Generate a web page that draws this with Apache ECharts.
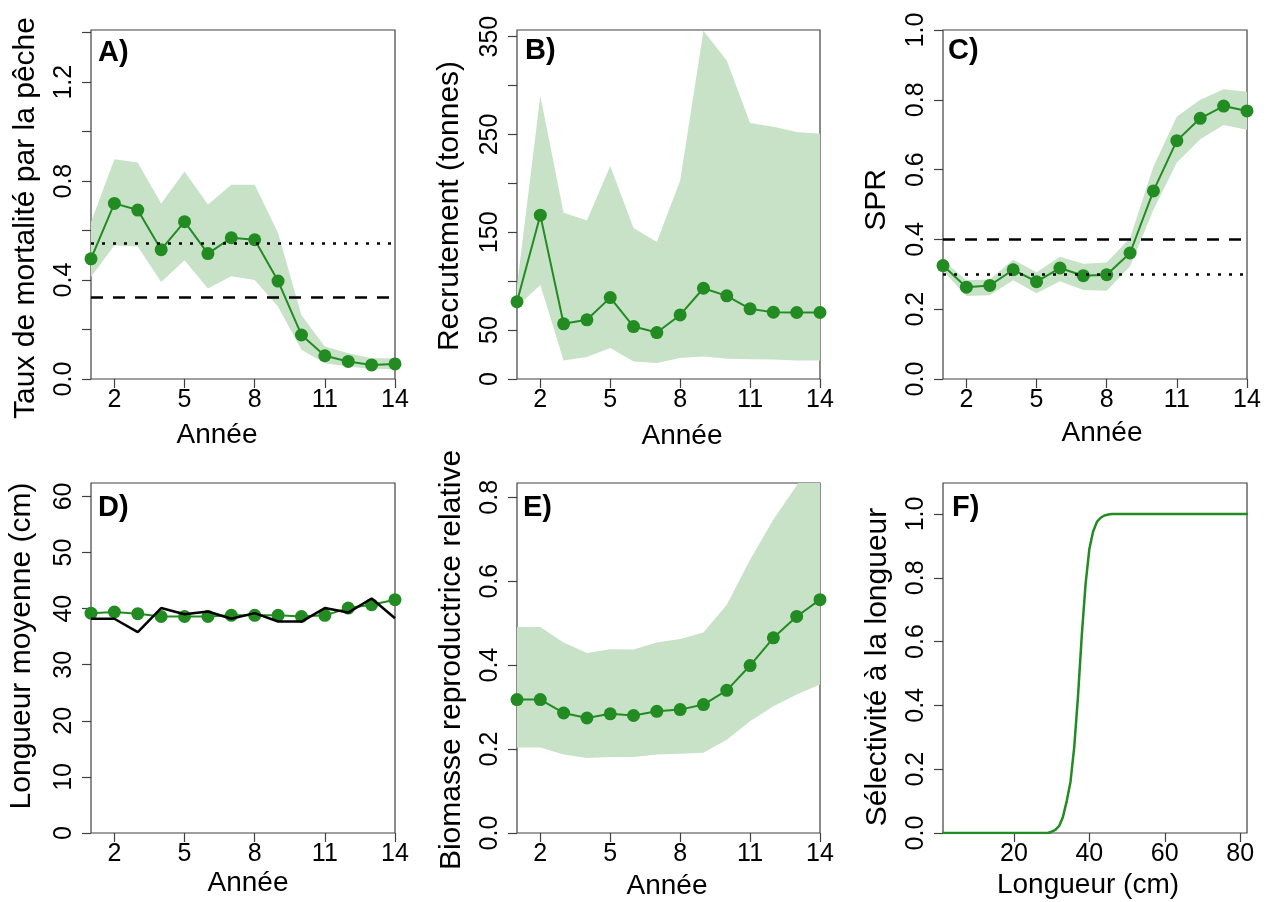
<!DOCTYPE html>
<html>
<head>
<meta charset="utf-8">
<script src="https://cdn.jsdelivr.net/npm/echarts@6/dist/echarts.min.js"></script>
<style>
  html, body { margin: 0; padding: 0; background: #fff; }
  #chart { width: 1271px; height: 902px; }
</style>
</head>
<body>
<div id="chart"></div>
<script>
// ---- data ----
const years = [1, 2, 3, 4, 5, 6, 7, 8, 9, 10, 11, 12, 13, 14];

// A) fishing mortality
const fishMort   = [0.486, 0.71, 0.683, 0.523, 0.636, 0.507, 0.571, 0.563, 0.396, 0.178, 0.094, 0.071, 0.057, 0.061];
const fishMortLo = [0.413, 0.54, 0.536, 0.392, 0.48, 0.366, 0.415, 0.40, 0.292, 0.118, 0.064, 0.051, 0.04, 0.04];
const fishMortHi = [0.634, 0.888, 0.875, 0.71, 0.839, 0.705, 0.785, 0.785, 0.59, 0.258, 0.131, 0.104, 0.084, 0.084];
const fishMortDotted = 0.547;
const fishMortDashed = 0.33;

// B) recruitment
const recruit   = [79, 167.5, 56.4, 60.5, 83.2, 53.6, 47.5, 65.5, 92.8, 85, 71.7, 68.3, 68, 68];
const recruitLo = [74, 96, 19, 22.4, 31.6, 18, 16.3, 21.4, 23, 20.7, 20.3, 20, 19, 19];
const recruitHi = [95, 289.5, 170, 162, 217.7, 154.5, 140, 203, 356, 325.5, 261.6, 258, 252.4, 250.8];

// C) SPR
const spr   = [0.325, 0.263, 0.268, 0.313, 0.279, 0.318, 0.296, 0.299, 0.361, 0.539, 0.683, 0.747, 0.782, 0.768];
const sprLo = [0.31, 0.238, 0.24, 0.283, 0.246, 0.28, 0.255, 0.253, 0.323, 0.485, 0.62, 0.687, 0.728, 0.714];
const sprHi = [0.34, 0.283, 0.285, 0.342, 0.306, 0.35, 0.33, 0.334, 0.404, 0.609, 0.752, 0.80, 0.83, 0.823];
const sprDashed = 0.402;
const sprDotted = 0.303;

// D) mean length: estimated (green) and observed (black)
const lenEst = [39.2, 39.4, 39.1, 38.6, 38.6, 38.6, 38.8, 38.8, 38.8, 38.6, 38.8, 40.1, 40.7, 41.6];
const lenObs = [38.2, 38.2, 35.8, 40.1, 39.0, 39.5, 38.2, 39.2, 37.7, 37.7, 40.1, 39.3, 41.8, 38.3];

// E) relative spawning biomass
const ssb   = [0.318, 0.318, 0.286, 0.274, 0.284, 0.280, 0.290, 0.294, 0.306, 0.340, 0.399, 0.465, 0.516, 0.556];
const ssbLo = [0.204, 0.204, 0.187, 0.179, 0.181, 0.181, 0.187, 0.189, 0.191, 0.222, 0.266, 0.302, 0.33, 0.354];
const ssbHi = [0.491, 0.491, 0.454, 0.429, 0.438, 0.437, 0.454, 0.462, 0.478, 0.544, 0.651, 0.747, 0.828, 0.91];

// F) selectivity at length
const lengths     = [1, 29, 30, 31, 32, 33, 34, 35, 36, 37, 38, 39, 40, 41, 42, 43, 44, 45, 46, 82];
const selectivity = [0, 0, 0.004, 0.01, 0.022, 0.05, 0.1, 0.16, 0.27, 0.43, 0.62, 0.78, 0.89, 0.945, 0.975, 0.988, 0.995, 0.998, 1, 1];

const yearTicks = [2, 5, 8, 11, 14];
const lengthTicks = [20, 40, 60, 80];

// ---- style ----
const GREEN = '#228B22';
const BAND = '#C8E2C8';
const INK = '#404040';
const FONT = '"Liberation Sans", Arial, sans-serif';

const boxes = [
  { left: 91,  top: 30,  width: 304, height: 349 },
  { left: 517, top: 30,  width: 303, height: 349 },
  { left: 943, top: 30,  width: 304, height: 349 },
  { left: 91,  top: 483, width: 304, height: 350 },
  { left: 517, top: 483, width: 303, height: 350 },
  { left: 943, top: 483, width: 304, height: 350 },
];

function xAxisFor(i, min, max, ticks) {
  return {
    gridIndex: i, type: 'value', min, max,
    axisLine: { show: false },
    axisTick: { show: true, length: 9, customValues: ticks, lineStyle: { color: INK, width: 1.2 } },
    axisLabel: { customValues: ticks, margin: 9, fontSize: 25, color: '#000', fontFamily: FONT },
    splitLine: { show: false },
  };
}

function yAxisFor(i, max, ticks, labels, digits) {
  return {
    gridIndex: i, type: 'value', min: 0, max,
    axisLine: { show: false },
    axisTick: { show: true, length: 9, customValues: ticks, lineStyle: { color: INK, width: 1.2 } },
    axisLabel: {
      customValues: labels, rotate: 90, margin: 14, fontSize: 25, color: '#000', fontFamily: FONT,
      formatter: (v) => Number(v).toFixed(digits),
    },
    splitLine: { show: false },
  };
}

const pairs = (xs, ys) => xs.map((x, k) => [x, ys[k]]);

// confidence band: one polygon per panel, upper edge forward then lower edge back
function band(i, lo, hi) {
  return {
    type: 'custom', xAxisIndex: i, yAxisIndex: i, silent: true, clip: true, z: 1,
    data: years.map((y, k) => [y, lo[k], hi[k]]),
    encode: { x: 0, y: [1, 2] },
    renderItem(params, api) {
      if (params.dataIndex !== 0) return null;
      const top = years.map((y, k) => api.coord([y, hi[k]]));
      const bottom = years.map((y, k) => api.coord([y, lo[k]])).reverse();
      return {
        type: 'polygon',
        shape: { points: top.concat(bottom) },
        style: { fill: BAND },
      };
    },
  };
}

function refLine(value, dash) {
  return { yAxis: value, lineStyle: { color: '#000', width: 2.5, type: dash } };
}

function trend(i, values, refs) {
  const s = {
    type: 'line', xAxisIndex: i, yAxisIndex: i, data: pairs(years, values),
    symbol: 'circle', symbolSize: 13, itemStyle: { color: GREEN },
    lineStyle: { color: GREEN, width: 2 }, z: 3,
  };
  if (refs) {
    s.markLine = { silent: true, symbol: 'none', label: { show: false }, data: refs };
  }
  return s;
}

function text(str, x, y, size, opts = {}) {
  return {
    type: 'text', x, y, rotation: opts.rotate ? Math.PI / 2 : 0,
    style: {
      text: str, fill: '#000',
      font: (opts.bold ? 'bold ' : '') + size + 'px ' + FONT,
      align: opts.align || 'center', verticalAlign: 'middle',
      textAlign: opts.align || 'center', textVerticalAlign: 'middle',
    },
    z: 10,
  };
}

const chart = echarts.init(document.getElementById('chart'), null, { renderer: 'canvas' });
chart.setOption({
  animation: false,
  backgroundColor: '#fff',
  grid: boxes.map((b) => ({ ...b, show: true, borderColor: INK, borderWidth: 1.2, backgroundColor: 'transparent' })),
  xAxis: [
    xAxisFor(0, 1, 14, yearTicks),
    xAxisFor(1, 1, 14, yearTicks),
    xAxisFor(2, 1, 14, yearTicks),
    xAxisFor(3, 1, 14, yearTicks),
    xAxisFor(4, 1, 14, yearTicks),
    xAxisFor(5, 1.2, 81.8, lengthTicks),
  ],
  yAxis: [
    yAxisFor(0, 1.411, [0, 0.2, 0.4, 0.6, 0.8, 1.0, 1.2, 1.4], [0, 0.4, 0.8, 1.2], 1),
    yAxisFor(1, 356.8, [0, 50, 100, 150, 200, 250, 300, 350], [0, 50, 150, 250, 350], 0),
    yAxisFor(2, 1.0, [0, 0.2, 0.4, 0.6, 0.8, 1.0], [0, 0.2, 0.4, 0.6, 0.8, 1.0], 1),
    yAxisFor(3, 62.4, [0, 10, 20, 30, 40, 50, 60], [0, 10, 20, 30, 40, 50, 60], 0),
    yAxisFor(4, 0.834, [0, 0.2, 0.4, 0.6, 0.8], [0, 0.2, 0.4, 0.6, 0.8], 1),
    yAxisFor(5, 1.097, [0, 0.2, 0.4, 0.6, 0.8, 1.0], [0, 0.2, 0.4, 0.6, 0.8, 1.0], 1),
  ],
  series: [
    band(0, fishMortLo, fishMortHi),
    trend(0, fishMort, [refLine(fishMortDotted, [3, 8]), refLine(fishMortDashed, [12, 10])]),
    band(1, recruitLo, recruitHi),
    trend(1, recruit),
    band(2, sprLo, sprHi),
    trend(2, spr, [refLine(sprDashed, [12, 10]), refLine(sprDotted, [3, 8])]),
    trend(3, lenEst),
    {
      type: 'line', xAxisIndex: 3, yAxisIndex: 3, data: pairs(years, lenObs),
      symbol: 'none', lineStyle: { color: '#000', width: 2.5 }, z: 4,
    },
    band(4, ssbLo, ssbHi),
    trend(4, ssb),
    {
      type: 'line', xAxisIndex: 5, yAxisIndex: 5, data: pairs(lengths, selectivity),
      symbol: 'none', lineStyle: { color: GREEN, width: 2.5 }, z: 3,
    },
  ],
  graphic: [
    text('A)', 98, 52.5, 29, { bold: true, align: 'left' }),
    text('B)', 525, 51, 29, { bold: true, align: 'left' }),
    text('C)', 948, 51, 29, { bold: true, align: 'left' }),
    text('D)', 98, 507.5, 29, { bold: true, align: 'left' }),
    text('E)', 523, 507.5, 29, { bold: true, align: 'left' }),
    text('F)', 952, 507.5, 29, { bold: true, align: 'left' }),

    text('Année', 217, 435, 28),
    text('Année', 682, 436, 28),
    text('Année', 1102, 433, 28),
    text('Année', 248, 883, 28),
    text('Année', 667, 886, 28),
    text('Longueur (cm)', 1088, 885, 28),

    text('Taux de mortalité par la pêche', 26, 218, 30, { rotate: true }),
    text('Recrutement (tonnes)', 450, 206, 30, { rotate: true }),
    text('SPR', 877, 200, 30, { rotate: true }),
    text('Longueur moyenne (cm)', 22, 646, 30, { rotate: true }),
    text('Biomasse reproductrice relative', 452, 660, 30, { rotate: true }),
    text('Sélectivité à la longueur', 878, 667, 30, { rotate: true }),
  ],
});
</script>
</body>
</html>
